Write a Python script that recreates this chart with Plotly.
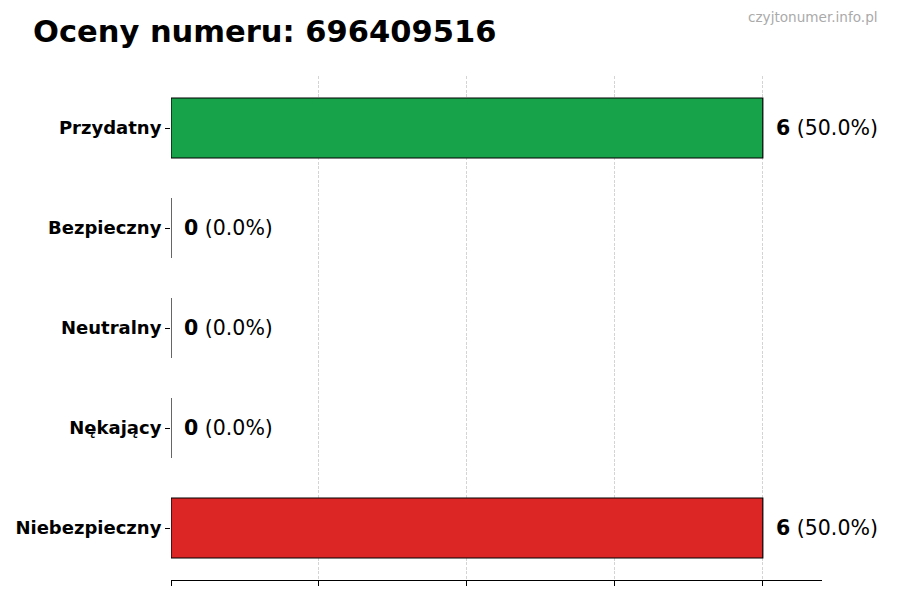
import plotly.graph_objects as go

# ratings for the number
categories = ["Przydatny", "Bezpieczny", "Neutralny", "Nękający", "Niebezpieczny"]
counts = [6, 0, 0, 0, 6]
bar_colors = ["#16a34a", "#9ca3af", "#6b7280", "#f97316", "#dc2626"]
phone_number = "696409516"

total = sum(counts)
percents = [c / total * 100 if total else 0 for c in counts]

fig = go.Figure()
fig.add_trace(go.Bar(
    x=counts,
    y=categories,
    orientation="h",
    width=0.6,
    marker=dict(color=bar_colors, line=dict(color="#000000", width=1.2)),
    hoverinfo="skip",
))

# value labels next to the bars
for cat, cnt, pct in zip(categories, counts, percents):
    fig.add_annotation(
        x=cnt, y=cat,
        text=f"<b>{cnt}</b> ({pct:.1f}%)",
        xanchor="left", yanchor="middle",
        xshift=11, showarrow=False,
        font=dict(family="DejaVu Sans", size=20.5, color="#000000"),
    )

# page body adds ~8px offset, so positions below are shifted back by 8px
fig.add_annotation(
    xref="paper", yref="paper", x=1.089, y=1.117,
    text="czyjtonumer.info.pl", xanchor="right", yanchor="middle",
    showarrow=False,
    font=dict(family="DejaVu Sans", size=13.6, color="#aaaaaa"),
)

fig.update_layout(
    width=900, height=600,
    paper_bgcolor="white", plot_bgcolor="white",
    margin=dict(l=163, r=86, t=68, b=28),
    showlegend=False,
    title=dict(
        text=f"<b>Oceny numeru: {phone_number}</b>",
        x=25 / 900, xanchor="left", y=1 - 23 / 600, yanchor="middle",
        font=dict(family="DejaVu Sans", size=30.5, color="#000000"),
    ),
    xaxis=dict(
        range=[0, 6.6],
        tickmode="array", tickvals=[0, 1.5, 3, 4.5, 6], showticklabels=False,
        ticks="outside", ticklen=5, tickcolor="#000000", tickwidth=1,
        showgrid=True, gridcolor="#d4d4d4", griddash="3px,1.5px", gridwidth=0.8,
        showline=True, linecolor="#000000", linewidth=1,
        zeroline=False, fixedrange=True, automargin=False,
    ),
    yaxis=dict(
        categoryorder="array", categoryarray=categories,
        range=[4.52, -0.52],
        ticks="outside", ticklen=5, tickcolor="#000000", tickwidth=1,
        tickfont=dict(family="DejaVu Sans", size=18, color="#000000"),
        showgrid=False, showline=False, zeroline=False, automargin=False,
    ),
)
fig.update_yaxes(tickprefix="<b>", ticksuffix="</b>")

fig.write_html("out.html")
